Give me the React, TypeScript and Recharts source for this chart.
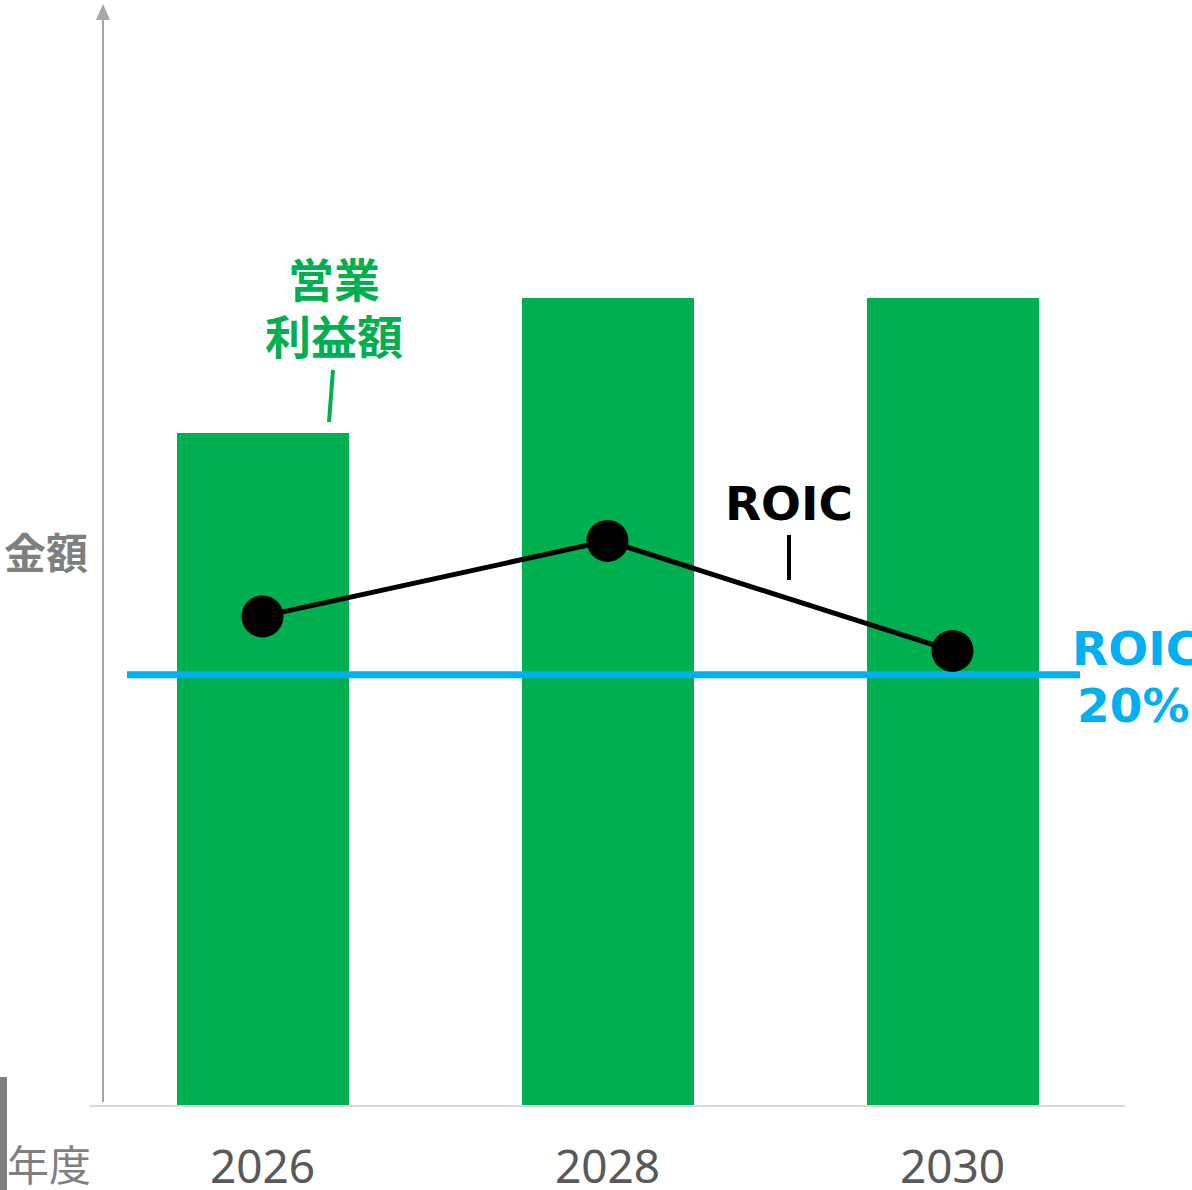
import React from "react";
import {
  ComposedChart,
  Bar,
  Line,
  XAxis,
  YAxis,
  ReferenceLine,
} from "recharts";

const YEARS = ["2026", "2028", "2030"];
const PROFIT = [673, 808, 808]; // 営業利益額 (relative units)
const ROIC = [22.7, 26.2, 21.1]; // %
const ROIC_TARGET = 20;

const GREEN = "#00b050";
const BLUE = "#00b0f0";
const GREY = "#595959";
const FONT = "'Noto Sans', 'Noto Sans CJK JP', sans-serif";
const BOLD = "'DejaVu Sans', 'Noto Sans', sans-serif";
const JP = "'Noto Sans CJK JP', 'Noto Sans', sans-serif";

const data = YEARS.map((year, i) => ({
  year,
  profit: PROFIT[i],
  roic: ROIC[i],
}));

function YearTick({ x, y, payload }: any) {
  return (
    <text
      x={x}
      y={y + 69}
      textAnchor="middle"
      fill={GREY}
      fontSize={46}
      fontFamily={FONT}
    >
      {payload.value}
    </text>
  );
}

// target line is drawn a little shorter than the plot area, as in the original
function TargetLine({ x1, y1, x2 }: any) {
  return <line x1={x1 + 37} y1={y1} x2={x2 - 45} y2={y1} stroke={BLUE} strokeWidth={7} />;
}

export default function App() {
  return (
    <div
      style={{
        position: "absolute",
        left: 0,
        top: 0,
        width: 1192,
        height: 1190,
        background: "#fff",
        overflow: "hidden",
      }}
    >
      <ComposedChart
        width={1192}
        height={1190}
        data={data}
        margin={{ top: 6, right: 67, bottom: 0, left: 90 }}
      >
        <XAxis
          dataKey="year"
          axisLine={{ stroke: "#d9d9d9", strokeWidth: 2 }}
          tickLine={false}
          tick={<YearTick />}
          height={84}
        />
        <YAxis yAxisId="amt" hide domain={[0, 1100]} />
        <YAxis yAxisId="roic" hide domain={[0, 51]} />
        <Bar
          yAxisId="amt"
          dataKey="profit"
          fill={GREEN}
          barSize={172}
          isAnimationActive={false}
        />
        <ReferenceLine
          yAxisId="roic"
          y={ROIC_TARGET}
          shape={<TargetLine />}
        />
        <Line
          yAxisId="roic"
          dataKey="roic"
          stroke="#000"
          strokeWidth={5}
          dot={{ r: 21, fill: "#000", stroke: "none" }}
          isAnimationActive={false}
        />
      </ComposedChart>

      {/* y-axis arrow and annotations */}
      <svg
        width={1192}
        height={1190}
        style={{ position: "absolute", left: 0, top: 0, pointerEvents: "none" }}
      >
        <line x1={103} y1={18} x2={103} y2={1102} stroke="#a6a6a6" strokeWidth={2} />
        <polygon points="103,4 96,20 110,20" fill="#a6a6a6" />
        <rect x={0} y={1077} width={7} height={113} fill="#808080" />

        <text x={4} y={569} fill="#7f7f7f" fontSize={42} fontWeight="bold" fontFamily={JP}>
          金額
        </text>
        <text x={7} y={1181} fill="#7f7f7f" fontSize={42} fontFamily={JP}>
          年度
        </text>

        <text x={334} y={297} textAnchor="middle" fill={GREEN} fontSize={46} fontWeight="bold" fontFamily={JP}>
          営業
        </text>
        <text x={334} y={354} textAnchor="middle" fill={GREEN} fontSize={46} fontWeight="bold" fontFamily={JP}>
          利益額
        </text>
        <line x1={333} y1={370} x2={329} y2={422} stroke={GREEN} strokeWidth={4} />

        <text x={789} y={520} textAnchor="middle" fill="#000" fontSize={47} fontWeight="bold" fontFamily={BOLD}>
          ROIC
        </text>
        <line x1={789} y1={535} x2={789} y2={580} stroke="#000" strokeWidth={4} />

        <text x={1072} y={665} fill={BLUE} fontSize={47} fontWeight="bold" fontFamily={BOLD}>
          ROIC
        </text>
        <text x={1077} y={722} fill={BLUE} fontSize={47} fontWeight="bold" fontFamily={BOLD}>
          20%
        </text>
      </svg>
    </div>
  );
}
